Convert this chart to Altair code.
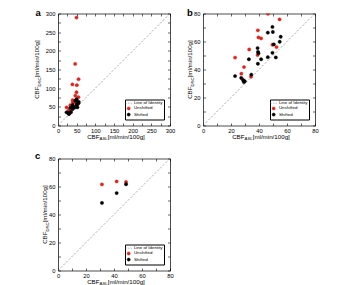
import altair as alt
import pandas as pd

# ---------------- data ----------------
SERIES = ["Line of Identity", "Unshifted", "Shifted"]

# panels a and b: same subjects, b is the 0-80 close-up
unshifted_asl = [46.4, 54.7, 39.2, 39.6, 41.5, 49.6, 52.5, 33.0, 39.0, 22.9,
                 29.3, 27.4, 34.3, 28.3, 49.5, 46.0, 55.0, 38.5, 50.5, 49.5]
unshifted_dsc = [79.8, 75.8, 68.0, 62.9, 62.2, 57.7, 56.0, 54.3, 50.3, 48.5,
                 41.7, 37.0, 34.8, 33.0, 289.0, 165.0, 124.0, 110.0, 108.0, 89.0]
shifted_asl = [49.6, 46.3, 49.9, 55.5, 54.8, 50.6, 39.0, 39.3, 39.6, 49.6,
               46.3, 52.0, 32.8, 41.5, 39.2, 22.9, 27.3, 28.8, 29.2, 34.5, 29.8]
shifted_dsc = [70.4, 66.3, 66.8, 63.4, 59.8, 57.9, 55.3, 52.6, 51.6, 51.9,
               48.8, 48.6, 47.3, 47.3, 44.1, 35.3, 34.0, 32.2, 31.0, 36.3, 31.6]

# panel c
c_unshifted_asl = [31.4, 41.9, 48.6]
c_unshifted_dsc = [61.5, 63.6, 63.2]
c_shifted_asl = [31.4, 41.9, 48.6]
c_shifted_dsc = [48.3, 55.3, 61.6]

# ---------------- style ----------------
FONT = "Liberation Sans"
RED = "#e2231a"
W = H = 112
TITLE_FS = 6.2
SUB_FS = 4.3

ARIAL = {"C": .722, "B": .667, "F": .611, "A": .667, "S": .667, "L": .556,
         "D": .722, "[": .278, "]": .278, "m": .833, "l": .222, "/": .278,
         "i": .222, "n": .556, "g": .556}


def text_width(s, size):
    return sum(ARIAL.get(ch, 0.556) for ch in s) * size


def frame(ux, uy, sx, sy):
    return pd.concat([
        pd.DataFrame({"asl": ux, "dsc": uy, "series": "Unshifted"}),
        pd.DataFrame({"asl": sx, "dsc": sy, "series": "Shifted"}),
    ], ignore_index=True)


def text_layer(text, x, y, size, angle=0, bold=False):
    return alt.Chart(alt.InlineData(values=[{}])).mark_text(
        text=text, font=FONT, fontSize=size, angle=angle, align="left",
        baseline="alphabetic", fontWeight="bold" if bold else "normal",
        color="black",
    ).encode(x=alt.value(x), y=alt.value(y))


def axis_titles(y_base):
    parts = [("CBF", TITLE_FS), ("DSC", SUB_FS), ("[ml/min/100g]", TITLE_FS)]
    xparts = [("CBF", TITLE_FS), ("ASL", SUB_FS), ("[ml/min/100g]", TITLE_FS)]
    layers = []
    # x title, left to right under the plot
    total = sum(text_width(s, f) for s, f in xparts)
    x0 = W / 2 - total / 2 + 2
    for s, f in xparts:
        dy = 1.6 if f == SUB_FS else 0
        layers.append(text_layer(s, x0, H + 13 + dy, f))
        x0 += text_width(s, f)
    # y title, bottom to top left of the plot
    total = sum(text_width(s, f) for s, f in parts)
    y0 = H / 2 + total / 2
    for s, f in parts:
        dx = 1.6 if f == SUB_FS else 0
        layers.append(text_layer(s, y_base + dx, y0, f, angle=270))
        y0 -= text_width(s, f)
    return layers


legend = alt.Legend(
    title=None, orient="bottom-right", offset=6.5, padding=1.5,
    rowPadding=0.2, labelFont=FONT, labelFontSize=4.4, labelOffset=3,
    symbolSize=9, symbolStrokeWidth=0.6, strokeColor="black",
    fillColor="white", cornerRadius=0, labelColor="black",
)

DASH_PATH = "M-2.2,0H-1.3M-0.5,0H0.5M1.3,0H2.2"


def panel(df, dmax, step, label_step, tag, tag_x, tag_y, y_base):
    ticks = list(range(0, dmax + 1, step))
    sc = alt.Scale(domain=[0, dmax], nice=False, zero=False)
    expr = f"datum.value % {label_step} === 0 ? datum.label : ''"
    inward = {"expr": "-2.5"}
    ax_b = alt.Axis(orient="bottom", values=ticks, labelExpr=expr, title=None,
                    tickSize=inward, labelPadding=4.2)
    ax_l = alt.Axis(orient="left", values=ticks, labelExpr=expr, title=None,
                    tickSize=inward, labelPadding=5.5)
    ax_t = alt.Axis(orient="top", values=ticks, labels=False, title=None,
                    tickSize=inward)
    ax_r = alt.Axis(orient="right", values=ticks, labels=False, title=None,
                    tickSize=inward)

    ident = alt.Chart(pd.DataFrame({"asl": [0, dmax], "dsc": [0, dmax]})).mark_line(
        color="#8a8a8a", strokeWidth=0.7, strokeDash=[2.2, 1.6],
    ).encode(
        x=alt.X("asl:Q", scale=sc, axis=ax_t),
        y=alt.Y("dsc:Q", scale=sc, axis=ax_r),
    )

    pts = alt.Chart(df).mark_point(
        filled=True, size=11, strokeWidth=0.4, opacity=1, clip=True,
    ).encode(
        x=alt.X("asl:Q", scale=sc, axis=ax_b),
        y=alt.Y("dsc:Q", scale=sc, axis=ax_l),
        fill=alt.Fill("series:N", scale=alt.Scale(domain=SERIES, range=["#8a8a8a", RED, "black"]), legend=legend),
        stroke=alt.Stroke("series:N", scale=alt.Scale(domain=SERIES, range=["#8a8a8a", RED, "black"]), legend=legend),
        shape=alt.Shape("series:N", scale=alt.Scale(domain=SERIES, range=[DASH_PATH, "circle", "circle"]), legend=legend),
    )

    layers = [ident, pts] + axis_titles(y_base) + [text_layer(tag, tag_x, tag_y, 9.5, bold=True)]
    return alt.layer(*layers).resolve_axis(x="independent", y="independent").properties(width=W, height=H)


pa = panel(frame(unshifted_asl, unshifted_dsc, shifted_asl, shifted_dsc), 300, 25, 50, "a", -22.5, 2.5, -19)
pb = panel(frame(unshifted_asl, unshifted_dsc, shifted_asl, shifted_dsc), 80, 10, 20, "b", -16, 2.5, -11)
pc = panel(frame(c_unshifted_asl, c_unshifted_dsc, c_shifted_asl, c_shifted_dsc), 80, 10, 20, "c", -23, 0.5, -11)

chart = alt.concat(pa, pb, pc, columns=2, spacing=33, bounds="flush").resolve_scale(
    x="independent", y="independent", fill="independent", stroke="independent", shape="independent",
).resolve_legend(
    fill="independent", stroke="independent", shape="independent",
).properties(
    padding={"left": 33, "top": 7.5, "right": 5, "bottom": 2},
).configure_view(stroke=None).configure_axis(
    domainColor="black", domainWidth=0.7, tickColor="black", tickWidth=0.6,
    labelFont=FONT, labelFontSize=5.8, labelColor="black", labelFlush=False,
    labelOverlap=False, grid=False,
)

chart.save("out.html", embed_options={"renderer": "svg", "actions": False})
